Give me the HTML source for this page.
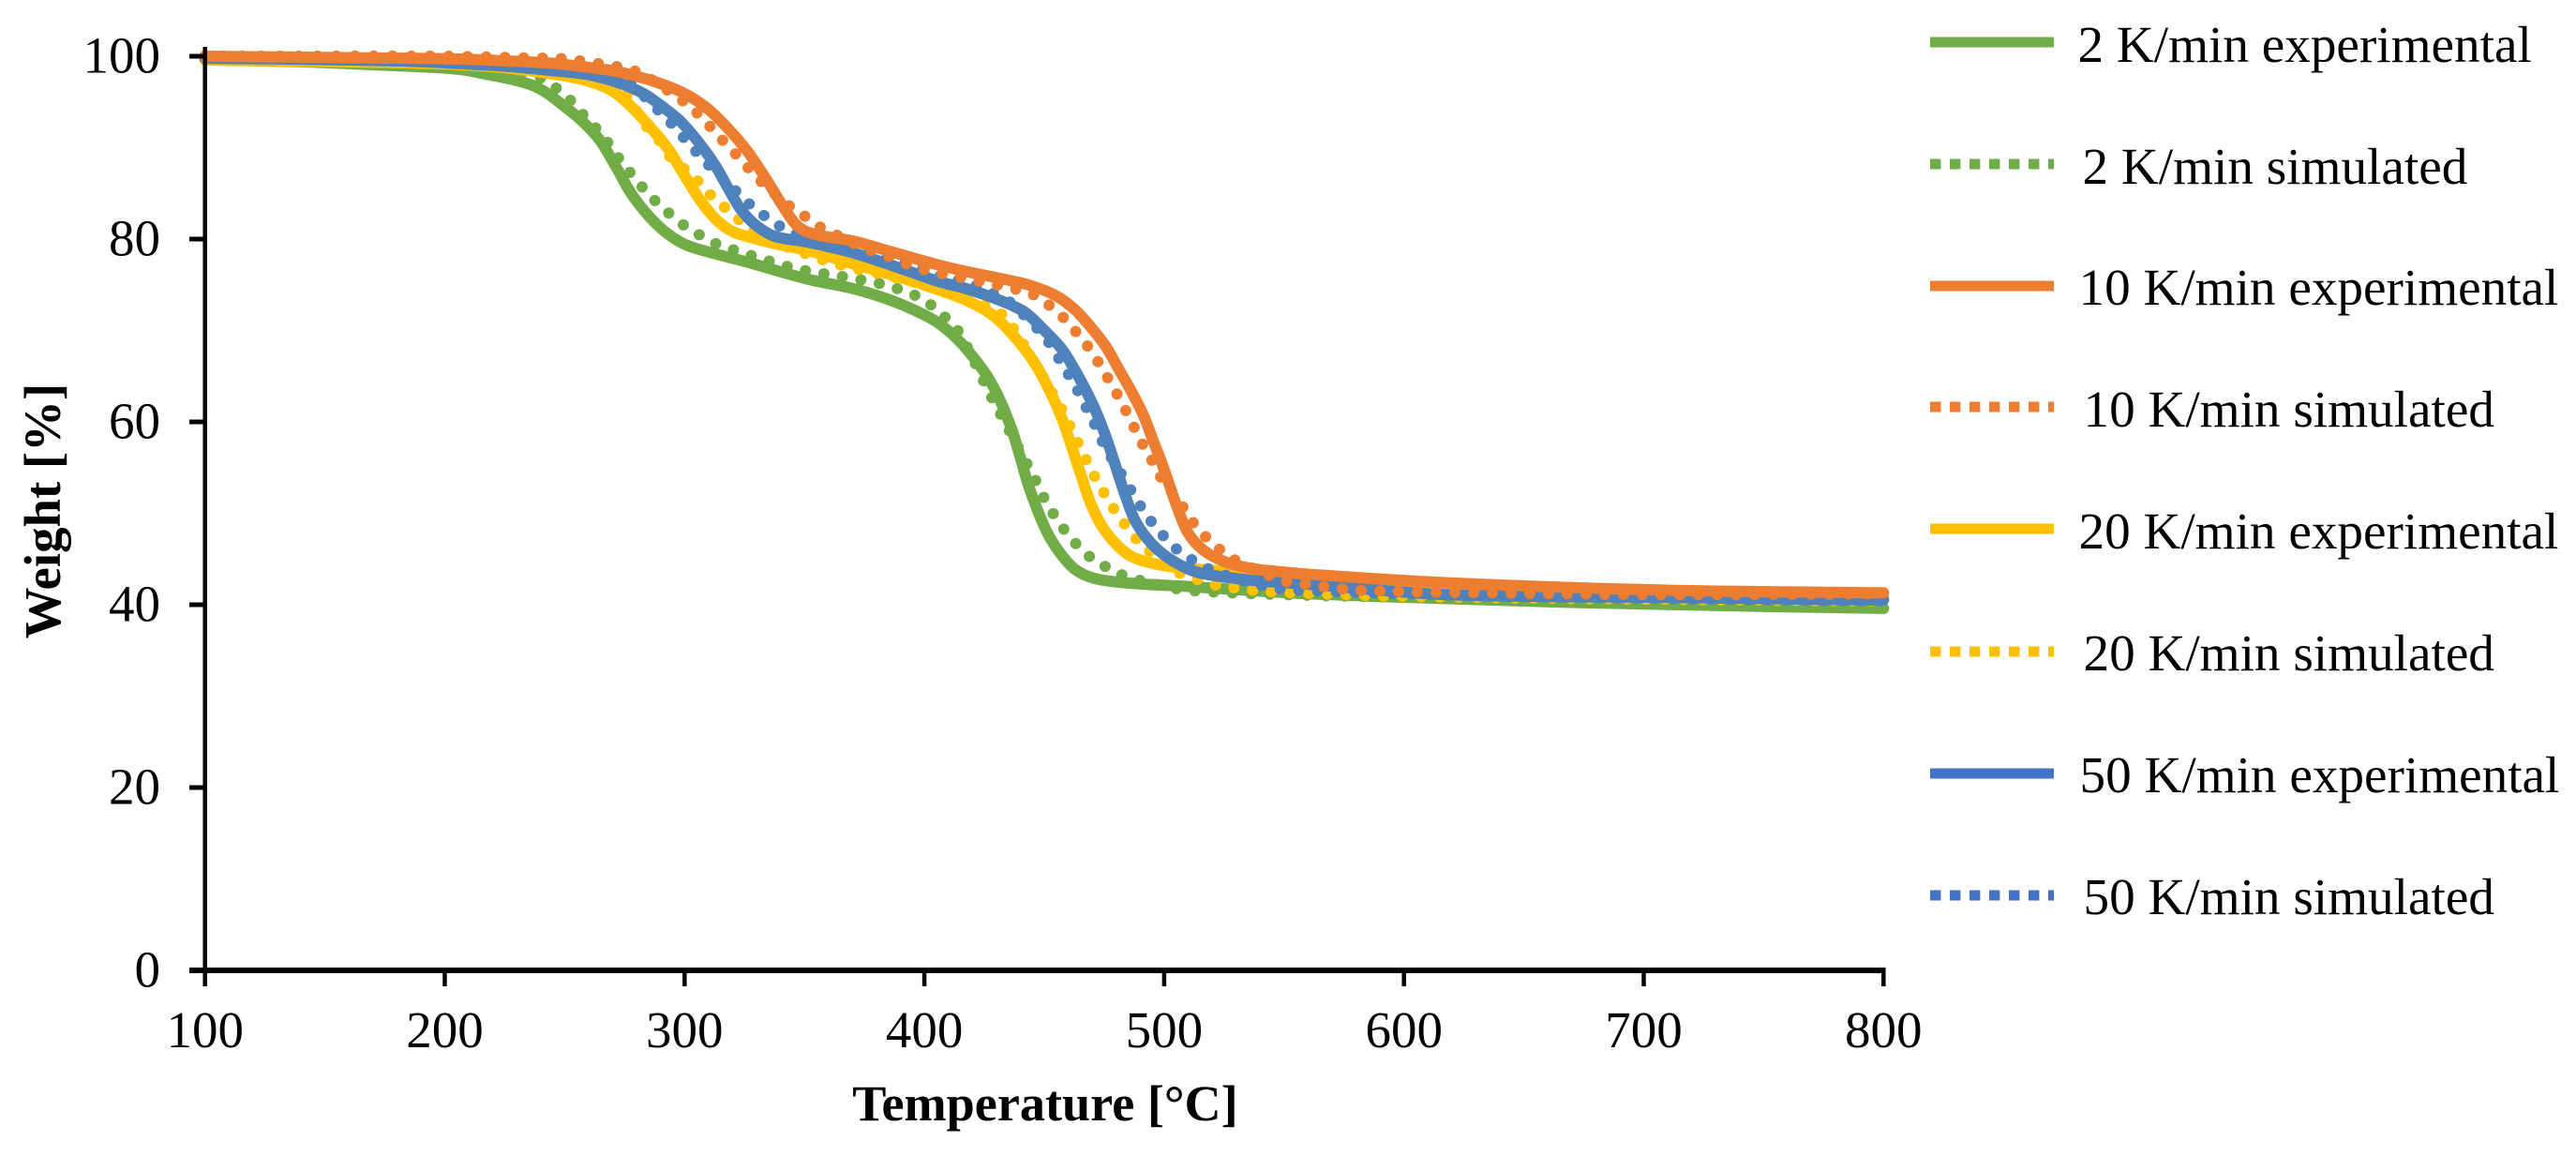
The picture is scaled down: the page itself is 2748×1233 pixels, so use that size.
<!DOCTYPE html>
<html>
<head>
<meta charset="utf-8">
<title>Weight vs Temperature</title>
<style>
html,body{margin:0;padding:0;background:#fff;}
svg{display:block;}
text{font-family:"Liberation Serif",serif;fill:#000;}
</style>
</head>
<body>
<svg id="chart" xmlns="http://www.w3.org/2000/svg" width="2748" height="1233" viewBox="0 0 2748 1233">
  <rect x="0" y="0" width="2748" height="1233" fill="#fff"/>
  <g id="series"></g>
  <g id="axes"></g>
  <text transform="translate(64,545) rotate(-90)" text-anchor="middle" font-size="54.8" font-weight="bold">Weight [%]</text>
  <text x="1115" y="1195" text-anchor="middle" font-size="54.2" font-weight="bold">Temperature [°C]</text>
  <g>
    <line x1="2059" x2="2191" y1="45" y2="45" stroke="#70AD47" stroke-width="11"/>
    <text x="2216.5" y="66" font-size="55.2">2 K/min experimental</text>
    <line x1="2059" x2="2191" y1="175" y2="175" stroke="#70AD47" stroke-width="11" stroke-dasharray="11.4 9.6"/>
    <text x="2221.5" y="196" font-size="55.2">2 K/min simulated</text>
    <line x1="2059" x2="2191" y1="305" y2="305" stroke="#ED7D31" stroke-width="11"/>
    <text x="2217.5" y="325" font-size="55.2">10 K/min experimental</text>
    <line x1="2059" x2="2191" y1="434" y2="434" stroke="#ED7D31" stroke-width="11" stroke-dasharray="11.4 9.6"/>
    <text x="2222.5" y="455" font-size="55.2">10 K/min simulated</text>
    <line x1="2059" x2="2191" y1="564" y2="564" stroke="#FFC000" stroke-width="11"/>
    <text x="2217.5" y="585" font-size="55.2">20 K/min experimental</text>
    <line x1="2059" x2="2191" y1="695" y2="695" stroke="#FFC000" stroke-width="11" stroke-dasharray="11.4 9.6"/>
    <text x="2222.5" y="715" font-size="55.2">20 K/min simulated</text>
    <line x1="2059" x2="2191" y1="825" y2="825" stroke="#4472C4" stroke-width="11"/>
    <text x="2218.5" y="845" font-size="55.2">50 K/min experimental</text>
    <line x1="2059" x2="2191" y1="955" y2="955" stroke="#4472C4" stroke-width="11" stroke-dasharray="11.4 9.6"/>
    <text x="2222.5" y="975" font-size="55.2">50 K/min simulated</text>
  </g>
</svg>
<script>
const xTickValues = [100, 200, 300, 400, 500, 600, 700, 800];
const yTickValues = [0, 20, 40, 60, 80, 100];

const tempGreenExp = [100,139,176.5,204.8,218,233.4,241.2,249,256.9,264.7,271.2,277.7,285.5,293.3,301.2,314.2,327.2,340.3,353.3,370,385,396,405.4,413.2,419.7,426.2,431.5,436.7,439.9,443.2,447.1,451,456.2,462.7,470.6,483.6,509.6,560,663,753,800];
const weightGreenExp = [99.6,99.4,99,98.6,98,97.1,96.2,94.7,93,90.8,88,85,82.4,80.5,79.3,78.3,77.4,76.4,75.5,74.6,73.4,72.2,70.9,69.2,67.3,65,62.4,59,56.2,53.2,50.4,48,45.8,43.9,42.9,42.4,42,41.2,40.3,39.8,39.6];

const tempGreenSim = [100,150,200,225,240.2,246,251.6,256.2,261.4,266.6,270.5,274.4,279,283.6,288.5,293.6,299.2,304.7,310.5,317.1,344.2,351.1,358.2,365.7,380.3,387.3,393.9,400,406,410.6,415.2,428.2,432.1,446.4,449.7,453.4,457.5,462.1,467.3,472.8,478.8,485.2,499.2,506.4,514,537.6,600,700,800];
const weightGreenSim = [99.9,99.8,99.5,98.7,97.6,96.6,95.4,94,92.6,91,89.7,88.1,86.8,85.3,84,82.8,81.6,80.7,79.8,79.1,76.9,76.5,76.2,75.9,75.2,74.7,74.1,73.3,72.1,70.9,69.5,62.6,60.7,53.6,51.8,50.1,48.5,47,45.6,44.6,43.7,43,42.1,41.7,41.5,41.2,40.8,40.2,39.7];

const tempOrangeExp = [100,178.7,204.8,233.4,246.4,259.5,272.5,285.5,298.6,309,318.1,325.9,333.7,340.3,346.8,354.6,370.2,385,405.4,418.4,431.5,444.5,454.9,462.7,469.3,475.8,481,486.2,491.4,495.3,498.6,501.8,505.1,509.6,516.2,525.3,535.7,548.7,561.8,618,708,800];
const weightOrangeExp = [100,99.8,99.7,99.4,99.2,98.8,98.3,97.4,96.1,94.4,92.1,89.7,86.7,83.9,81.5,80.5,79.8,78.7,77.2,76.4,75.7,74.9,73.8,72.3,70.4,68.2,65.8,63.4,60.7,58,55.8,53.4,50.9,48,46,44.7,44,43.6,43.3,42.4,41.6,41.3];

const tempOrangeSim = [100,200,237.7,245.8,253.6,261.4,268.8,276.1,282.7,299.9,304.8,309.6,314.2,319,324,328.5,339,343.9,349.6,355.2,361.5,373.4,387.3,396.4,443,449,454.3,459.5,464.3,468.9,472.8,476.5,480.2,483.7,487.1,490.5,494.3,497.7,506.8,510.3,514.9,519.8,524.9,530.9,550,557.5,580.6,637,708,800];
const weightOrangeSim = [100,100,99.8,99.8,99.6,99.3,99,98.6,98,95,93.9,92.6,91.3,89.9,88.6,87.2,84.6,83.6,82.6,81.5,80.7,79.2,77.9,76.9,74.2,73.3,72.3,71,69.5,68,66.4,64.8,63.1,61.4,59.6,57.8,56.1,54.3,51.1,49.6,48.1,46.8,45.7,44.7,42.6,42.3,41.6,41.3,41.1,41.2];

const tempYellowExp = [100,178,217.8,246.4,259.5,269.9,277.7,285.5,293.3,299.9,306.4,312.9,319.4,327.2,337.6,350.7,370.2,390,405.4,418.4,428.9,438,445.8,452.3,457.5,461.4,465.3,469.3,473.8,479.7,486.2,494,504.4,522.7,540,600,700,800];
const weightYellowExp = [99.6,99.3,98.9,98,97.3,96.2,94.5,92.3,89.8,87,84.3,82.2,80.9,80.2,79.5,78.8,77.3,75.8,74.5,73.2,71.6,69.2,66.5,63.4,60.3,57.3,54.2,51.1,48.7,46.7,45.3,44.6,44.1,43.7,43.2,42.2,41.3,40.8];

const tempYellowSim = [100,200,250,272,283.6,288.8,294,303.5,308,312.5,318,323.3,335,348.7,354.6,361.8,369,385,400,420,430.2,435.4,458.8,461.4,464.7,468,471.5,475.2,479.2,483.3,488,492.7,503.8,510.3,517.1,524,531.3,538.7,546.4,554.2,600,700,800];
const weightYellowSim = [99.9,99.7,99,97,92.5,91,89,86.9,85.6,84.4,83.2,82,80,78.6,78,77.4,76.9,76,75,73.2,72.1,70.9,60.7,59.1,57.4,55.6,53.8,52.1,50.4,48.9,47.3,46.1,43.8,43.1,42.5,42,41.8,41.5,41.4,41.3,40.9,40.6,40.4];

const tempBlueExp = [100,178,220,246.4,259.5,272.5,283,290.7,298.6,306.4,312.9,318.1,323.3,329.8,337.6,350.7,370.2,390,405.4,418.4,431.5,441.9,449.7,457.5,464,470.6,475.8,479.7,483.6,487.5,492.7,499.2,508.4,516.2,535.7,561.8,618,708,800];
const weightBlueExp = [99.8,99.5,99,98.4,98,97.1,95.9,94.5,92.8,90.4,88,85.6,83.3,81.5,80.3,79.7,78.5,76.8,75.4,74.5,73.3,72,70.1,67.9,65.1,61.7,58.3,55.2,52.1,49.4,47.3,45.6,44.1,43.4,42.7,42.2,41.1,40.8,40.5];

const tempBlueSim = [100,200,260,275,289.4,294,298.6,303.4,307.7,318.1,323.1,328.1,333.5,339.2,345.1,370,395,407.4,414.5,421.7,428.2,434.7,449.7,453.6,457.5,461.2,465,468.2,471.6,475.1,482.3,486.2,490.1,494.3,498.8,503.8,509.1,515.3,521.1,542.2,550,600,700,800];
const weightBlueSim = [100,99.9,99.2,97.5,94,92.8,91.4,90,88.7,86.1,84.8,83.6,82.5,81.5,80.7,79,77.2,75.9,75.5,74.9,74.1,73.3,69.5,68,66.3,64.7,62.9,61.2,59.4,57.4,54.2,52.5,50.8,49.2,47.8,46.4,45.3,44.4,43.6,42,41.7,41.2,40.7,40.4];

function xScale(t) { return 218.7 + (t - 100) * 2.558; }
function yScale(w) { return 1035 - w * 9.75; }

function curvePath(temps, weights) {
  const px = temps.map(xScale);
  const py = weights.map(yScale);
  const n = px.length;
  const slope = [];
  for (let i = 0; i < n; i++) {
    const a = Math.max(i - 1, 0);
    const b = Math.min(i + 1, n - 1);
    slope.push((py[b] - py[a]) / (px[b] - px[a]));
  }
  let d = 'M' + px[0].toFixed(1) + ' ' + py[0].toFixed(1);
  for (let i = 0; i < n - 1; i++) {
    const dx = (px[i + 1] - px[i]) / 3;
    d += ' C' + (px[i] + dx).toFixed(1) + ' ' + (py[i] + slope[i] * dx).toFixed(1) +
         ' ' + (px[i + 1] - dx).toFixed(1) + ' ' + (py[i + 1] - slope[i + 1] * dx).toFixed(1) +
         ' ' + px[i + 1].toFixed(1) + ' ' + py[i + 1].toFixed(1);
  }
  return d;
}

const NS = 'http://www.w3.org/2000/svg';
const seriesGroup = document.getElementById('series');
const axesGroup = document.getElementById('axes');

function addSeries(name, temps, weights, color, dotted) {
  const p = document.createElementNS(NS, 'path');
  
  
  p.setAttribute('d', curvePath(temps, weights));
  p.setAttribute('fill', 'none');
  p.setAttribute('stroke', color);
  p.setAttribute('stroke-width', '12');
  p.setAttribute('stroke-linejoin', 'round');
  p.setAttribute('stroke-linecap', 'round');
  if (dotted) p.setAttribute('stroke-dasharray', '0 20');
  seriesGroup.appendChild(p);
}

addSeries('series-2-experimental', tempGreenExp, weightGreenExp, '#70AD47', false);
addSeries('series-2-simulated', tempGreenSim, weightGreenSim, '#70AD47', true);
addSeries('series-20-experimental', tempYellowExp, weightYellowExp, '#FFC000', false);
addSeries('series-20-simulated', tempYellowSim, weightYellowSim, '#FFC000', true);
addSeries('series-50-experimental', tempBlueExp, weightBlueExp, '#4F81BD', false);
addSeries('series-50-simulated', tempBlueSim, weightBlueSim, '#4F81BD', true);
addSeries('series-10-experimental', tempOrangeExp, weightOrangeExp, '#ED7D31', false);
addSeries('series-10-simulated', tempOrangeSim, weightOrangeSim, '#ED7D31', true);

const yAxisLine = document.createElementNS(NS, 'rect');


yAxisLine.setAttribute('x', xScale(100) - 2.25);
yAxisLine.setAttribute('y', yScale(100) - 10);
yAxisLine.setAttribute('width', 4.5);
yAxisLine.setAttribute('height', yScale(0) - yScale(100) + 10);
axesGroup.appendChild(yAxisLine);

const xAxisLine = document.createElementNS(NS, 'rect');


xAxisLine.setAttribute('x', 202);
xAxisLine.setAttribute('y', yScale(0) - 3);
xAxisLine.setAttribute('width', xScale(800) + 2.25 - 202);
xAxisLine.setAttribute('height', 6);
axesGroup.appendChild(xAxisLine);

xTickValues.forEach(function (v) {
  const tick = document.createElementNS(NS, 'rect');
  
  
  tick.setAttribute('x', xScale(v) - 2.25);
  tick.setAttribute('y', yScale(0));
  tick.setAttribute('width', 4.5);
  tick.setAttribute('height', 17);
  axesGroup.appendChild(tick);
  const label = document.createElementNS(NS, 'text');
  
  
  label.setAttribute('x', xScale(v));
  label.setAttribute('y', 1117);
  label.setAttribute('text-anchor', 'middle');
  label.setAttribute('font-size', '55');
  label.textContent = String(v);
  axesGroup.appendChild(label);
});

yTickValues.forEach(function (v) {
  const tick = document.createElementNS(NS, 'rect');
  
  
  tick.setAttribute('x', 202);
  tick.setAttribute('y', yScale(v) - 2.5);
  tick.setAttribute('width', 17);
  tick.setAttribute('height', 5);
  axesGroup.appendChild(tick);
  const label = document.createElementNS(NS, 'text');
  
  
  label.setAttribute('x', 171);
  label.setAttribute('y', yScale(v) + 17.5);
  label.setAttribute('text-anchor', 'end');
  label.setAttribute('font-size', '55');
  label.textContent = String(v);
  axesGroup.appendChild(label);
});
</script>
</body>
</html>
